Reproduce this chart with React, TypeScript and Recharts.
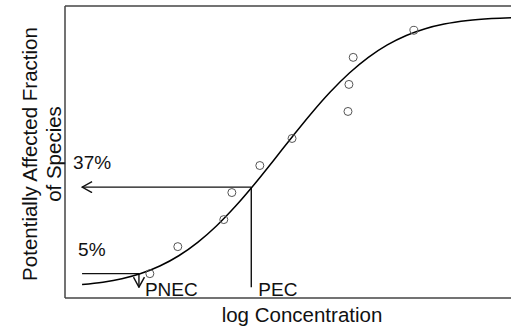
import {
  ComposedChart,
  Line,
  Scatter,
  XAxis,
  YAxis,
  ReferenceLine,
  Label,
} from "recharts";

// observed species sensitivities (log concentration, cumulative fraction)
const speciesLogConc = [1.79, 2.38, 3.35, 3.52, 4.11, 4.79, 5.97, 5.99, 6.08, 7.36];
const speciesFraction = [0.05, 0.15, 0.25, 0.35, 0.45, 0.55, 0.65, 0.75, 0.85, 0.95];

// fitted SSD curve
const curveLogConc = [0.36, 0.8, 1.2, 1.6, 2.0, 2.4, 2.8, 3.2, 3.6, 4.0, 4.4, 4.8, 5.2, 5.6, 6.0, 6.4, 6.8, 7.2, 7.6, 8.0, 8.5, 9.0, 9.6];
const curveFraction = [0.0099, 0.0185, 0.0312, 0.0505, 0.0783, 0.1163, 0.166, 0.2275, 0.3001, 0.3817, 0.4689, 0.5576, 0.6436, 0.7228, 0.7922, 0.8502, 0.8962, 0.9311, 0.9561, 0.9732, 0.9864, 0.9936, 0.9976];

// annotation values
const lineStartX = 0.36;
const pecX = 3.93;
const pecFraction = 0.37;
const pnecX = 1.56;
const pnecFraction = 0.05;

const points = speciesLogConc.map((x, i) => ({ x, y: speciesFraction[i] }));
const curve = curveLogConc.map((x, i) => ({ x, y: curveFraction[i] }));

const FONT = "'Liberation Sans', Arial, sans-serif";
const BOX = "#444";
const INK = "#111";

const note = (text: string, dx: number, dy: number, fromBottom = false) => (p: any) => {
  const vb = p.viewBox || {};
  const y = (fromBottom ? vb.y + vb.height : vb.y) + dy;
  return (
    <text x={vb.x + dx} y={y} fontFamily={FONT} fontSize={19} fill={INK}>
      {text}
    </text>
  );
};

const XTitle = (p: any) => {
  const vb = p.viewBox;
  return (
    <text x={vb.x + vb.width / 2} y={vb.y + 24} textAnchor="middle" fontFamily={FONT} fontSize={20.5} fill={INK}>
      log Concentration
    </text>
  );
};

const YTitle = (p: any) => {
  const vb = p.viewBox;
  const cy = vb.y + vb.height / 2 + 2;
  return (
    <g fontFamily={FONT} fontSize={20.5} fill={INK}>
      <text x={0} y={0} transform={`translate(37,${cy}) rotate(-90)`} textAnchor="middle">
        Potentially Affected Fraction
      </text>
      <text x={0} y={0} transform={`translate(61,${cy}) rotate(-90)`} textAnchor="middle">
        of Species
      </text>
    </g>
  );
};

const OpenCircle = (p: any) => (
  <circle cx={p.cx} cy={p.cy} r={4} fill="none" stroke="#555" strokeWidth={1} />
);

export default function App() {
  return (
    <div style={{ position: "fixed", left: 0, top: 0, width: 511, height: 327, overflow: "hidden", background: "#fff" }}>
      <ComposedChart width={540} height={327} margin={{ top: 6, right: 1, bottom: 0, left: 0 }}>
        <defs>
          <marker id="arrowOpen" viewBox="-11 -6 12 12" refX={0} refY={0} markerWidth={12} markerHeight={12} markerUnits="userSpaceOnUse" orient="auto">
            <path d="M-10,-5.5 L0,0 L-10,5.5" fill="none" stroke={INK} strokeWidth={1.4} />
          </marker>
        </defs>
        <XAxis
          type="number"
          dataKey="x"
          domain={[0, 10]}
          height={29}
          tick={false}
          tickLine={false}
          axisLine={{ stroke: BOX, strokeWidth: 1.5 }}
          allowDataOverflow
        >
          <Label content={XTitle} />
        </XAxis>
        <YAxis
          type="number"
          dataKey="y"
          domain={[-0.04, 1.04]}
          width={65}
          tick={false}
          tickLine={false}
          axisLine={{ stroke: BOX, strokeWidth: 1.5 }}
          allowDataOverflow
        >
          <Label content={YTitle} />
        </YAxis>
        <ReferenceLine y={1.04} stroke={BOX} strokeWidth={1.5} ifOverflow="visible" />

        <ReferenceLine
          segment={[{ x: pecX, y: pecFraction }, { x: lineStartX, y: pecFraction }]}
          stroke={INK}
          strokeWidth={1.4}
          markerEnd="url(#arrowOpen)"
          ifOverflow="visible"
          label={{ content: note("37%", -9, -18) }}
        />
        <ReferenceLine
          segment={[{ x: pecX, y: pecFraction }, { x: pecX, y: 0 }]}
          stroke={INK}
          strokeWidth={1.4}
          ifOverflow="visible"
          label={{ content: note("PEC", 7, 9, true) }}
        />
        <ReferenceLine
          segment={[{ x: lineStartX, y: pnecFraction }, { x: pnecX, y: pnecFraction }]}
          stroke={INK}
          strokeWidth={1.4}
          ifOverflow="visible"
          label={{ content: note("5%", -4, -18) }}
        />
        <ReferenceLine
          segment={[{ x: pnecX, y: pnecFraction }, { x: pnecX, y: 0 }]}
          stroke={INK}
          strokeWidth={1.4}
          markerEnd="url(#arrowOpen)"
          ifOverflow="visible"
          label={{ content: note("PNEC", 6, 9, true) }}
        />

        <Line
          data={curve}
          dataKey="y"
          type="monotone"
          stroke="#000"
          strokeWidth={1.5}
          dot={false}
          activeDot={false}
          isAnimationActive={false}
        />
        <Scatter data={points} dataKey="y" shape={OpenCircle} isAnimationActive={false} />
      </ComposedChart>
    </div>
  );
}
